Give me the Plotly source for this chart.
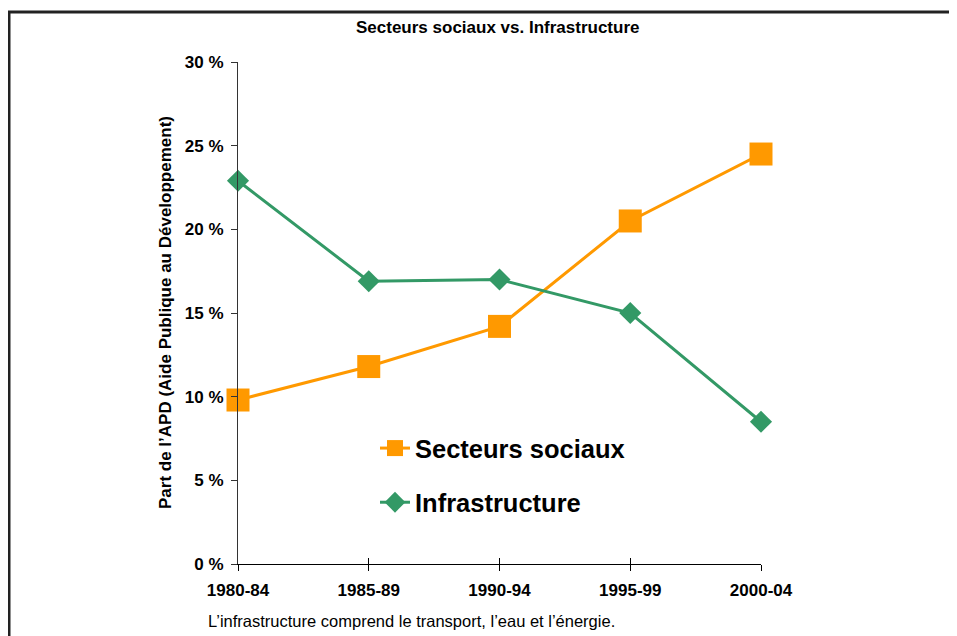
import plotly.graph_objects as go

periods = ["1980-84", "1985-89", "1990-94", "1995-99", "2000-04"]
secteurs_sociaux = [9.8, 11.8, 14.2, 20.5, 24.5]
infrastructure = [22.9, 16.9, 17.0, 15.0, 8.5]
y_ticks = [0, 5, 10, 15, 20, 25, 30]
y_tick_text = [f"{v} %" for v in y_ticks]

OFF = 8  # page body margin offset
W, H = 957, 636
PL, PR, PT, PB = 238, 761, 62, 564  # plot area in page pixels
L, T = PL - OFF, PT - OFF
R, B = W - (PR - OFF), H - (PB - OFF)
pw, ph = PR - PL, PB - PT

def px_x(x):
    return (x - PL) / pw

def px_y(y):
    return (PB - y) / ph

FONT = "Liberation Sans, Arial, sans-serif"
ORANGE = "#FF9900"
GREEN = "#339966"

fig = go.Figure()
fig.add_trace(go.Scatter(
    x=periods, y=secteurs_sociaux, name="Secteurs sociaux", mode="lines+markers",
    line=dict(color=ORANGE, width=3),
    marker=dict(symbol="square", size=23, color=ORANGE),
    legendgroup="a", cliponaxis=False))
fig.add_trace(go.Scatter(
    x=periods, y=infrastructure, name="Infrastructure", mode="lines+markers",
    line=dict(color=GREEN, width=3),
    marker=dict(symbol="diamond", size=17, color=GREEN),
    legendgroup="b", cliponaxis=False))
# helper trace for crossing x ticks
fig.add_trace(go.Scatter(x=periods, y=[None]*5, xaxis="x2", showlegend=False, hoverinfo="skip"))

fig.update_layout(
    width=W, height=H,
    margin=dict(l=L, r=R, t=T, b=B),
    paper_bgcolor="white", plot_bgcolor="white",
    font=dict(family=FONT, color="black"),
    showlegend=True,
    legend=dict(x=px_x(375), y=px_y(425), xanchor="left", yanchor="top",
                bgcolor="rgba(0,0,0,0)", tracegroupgap=18,
                traceorder="grouped",
                font=dict(family=FONT, size=25.5, weight="bold", color="black")),
    xaxis=dict(type="category", range=[0, 4], showgrid=False, zeroline=False,
               showline=True, linecolor="black", linewidth=1,
               ticks="outside", ticklen=6, tickcolor="black",
               tickfont=dict(family=FONT, size=17, weight="bold"),
               ticklabelstandoff=5),
    xaxis2=dict(type="category", range=[0, 4], overlaying="x", anchor="y", side="bottom",
                showgrid=False, zeroline=False, showline=False,
                ticks="inside", ticklen=6, tickcolor="black", showticklabels=False),
    yaxis=dict(range=[0, 30], tickmode="array", tickvals=y_ticks, ticktext=y_tick_text,
               showgrid=False, zeroline=False,
               showline=True, linecolor="#333333", linewidth=1,
               ticks="outside", ticklen=6, tickcolor="#333333",
               tickfont=dict(family=FONT, size=17, weight="bold"),
               ticklabelstandoff=4),
    annotations=[
        dict(text="<b>Secteurs sociaux vs. Infrastructure</b>", xref="paper", yref="paper",
             x=px_x(497), y=px_y(27), xanchor="center", yanchor="middle", showarrow=False,
             font=dict(family=FONT, size=17)),
        dict(text="<b>Part de l’APD (Aide Publique au Développement)</b>", xref="paper", yref="paper",
             x=px_x(165), y=px_y(313), xanchor="center", yanchor="middle", textangle=-90, showarrow=False,
             font=dict(family=FONT, size=17)),
        dict(text="L’infrastructure comprend le transport, l’eau et l’énergie.", xref="paper", yref="paper",
             x=px_x(206), y=px_y(621), xanchor="left", yanchor="middle", showarrow=False,
             font=dict(family=FONT, size=16.5)),
    ],
    shapes=[
        dict(type="line", xref="paper", yref="paper", x0=px_x(5), x1=px_x(960),
             y0=px_y(12), y1=px_y(12), line=dict(color="#222222", width=3)),
        dict(type="line", xref="paper", yref="paper", x0=px_x(9), x1=px_x(9),
             y0=px_y(11), y1=px_y(640), line=dict(color="#222222", width=3)),
    ],
)

fig.write_html("out.html")
